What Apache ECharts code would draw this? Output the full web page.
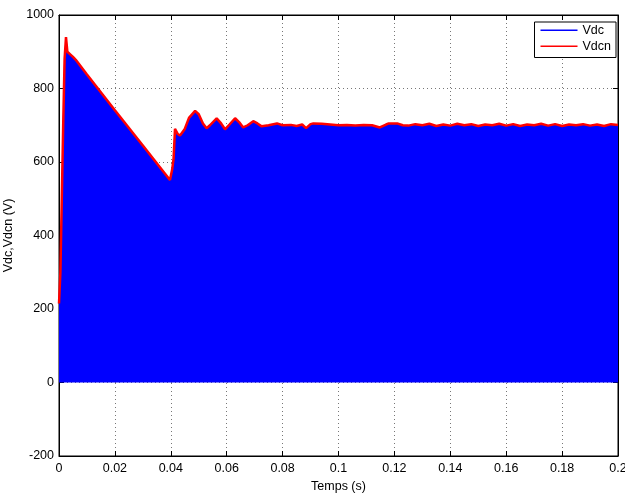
<!DOCTYPE html>
<html><head><meta charset="utf-8">
<script src="https://cdn.jsdelivr.net/npm/echarts@6/dist/echarts.min.js"></script>
<style>html,body{margin:0;padding:0;background:#fff}#c{width:625px;height:493px}</style>
</head><body><div id="c"></div>
<script>
var xTicks = [0, 0.02, 0.04, 0.06, 0.08, 0.1, 0.12, 0.14, 0.16, 0.18, 0.2];
var yTicks = [-200, 0, 200, 400, 600, 800, 1000];
var times = [0, 0.0005, 0.001, 0.0015, 0.002, 0.0025, 0.003, 0.004, 0.005, 0.006,
  0.01, 0.02, 0.03, 0.0397, 0.040, 0.0405, 0.041, 0.0415, 0.0425, 0.0433,
  0.045, 0.0465, 0.0487, 0.050, 0.0515, 0.0528, 0.054, 0.0564, 0.058, 0.0594,
  0.061, 0.063, 0.0645, 0.0659, 0.0675, 0.0695, 0.071, 0.0725, 0.075, 0.078,
  0.080, 0.083, 0.085, 0.087, 0.0884, 0.090, 0.091, 0.094, 0.097, 0.100,
  0.103, 0.106, 0.109, 0.112, 0.1148, 0.117, 0.118, 0.121, 0.123, 0.125,
  0.1275, 0.130, 0.1325, 0.135, 0.1375, 0.140, 0.1425, 0.145, 0.1475, 0.150,
  0.1525, 0.155, 0.1575, 0.160, 0.1625, 0.165, 0.1675, 0.170, 0.1725, 0.175,
  0.1775, 0.180, 0.1825, 0.185, 0.1875, 0.190, 0.1925, 0.195, 0.1975, 0.2];
var vdcn = [215, 300, 500, 700, 880, 940, 900, 893, 886, 878,
  838, 741, 645, 551, 546, 580, 610, 690, 676, 672,
  690, 720, 739, 730, 705, 692, 700, 719, 705, 689,
  702, 719, 708, 694, 700, 711, 705, 697, 700, 705,
  700, 701, 698, 702, 692, 703, 705, 704, 702, 700,
  701, 699, 701, 700, 694, 702, 705, 705, 700, 699,
  703, 700, 704, 698, 702, 699, 704, 700, 703, 698,
  702, 700, 704, 699, 703, 698, 702, 700, 704, 699,
  703, 698, 702, 700, 703, 699, 702, 698, 703, 701];
var vdc = [215, 300, 500, 700, 880, 938, 898, 892, 885, 877,
  837, 740, 644, 550, 546, 579, 609, 689, 675, 671,
  689, 719, 738, 729, 704, 691, 699, 718, 704, 688,
  701, 718, 707, 693, 699, 710, 704, 696, 699, 704,
  699, 700, 697, 701, 691, 702, 704, 703, 701, 699,
  700, 698, 700, 699, 693, 701, 704, 704, 699, 698,
  702, 699, 703, 697, 701, 698, 703, 699, 702, 697,
  701, 699, 703, 698, 702, 697, 701, 699, 703, 698,
  702, 697, 701, 699, 702, 698, 701, 697, 702, 700];

function pairs(ys){ return times.map(function(t,i){ return [t, ys[i]]; }); }

var chart = echarts.init(document.getElementById('c'), null, {renderer:'canvas'});
var font = 'Liberation Sans, Arial, Helvetica, sans-serif';
var fs = 12.5;
var axisLineStyle = {color:'#000', width:1};
chart.setOption({
  animation: false,
  color: ['#0000ff', '#ff0000'],
  backgroundColor: '#fff',
  textStyle: {fontFamily: font},
  grid: {left:59, right:7, top:15, bottom:37, outerBoundsMode:'none', containLabel:false,
    show:true, borderColor:'#000', borderWidth:1, backgroundColor:'transparent'},
  legend: {
    orient:'vertical', right:9, top:22, padding:[1,5,4,6], itemGap:1.5,
    itemWidth:37, itemHeight:1.3, icon:'rect',
    backgroundColor:'#fff', borderColor:'#000', borderWidth:1,
    textStyle:{fontFamily:font, fontSize:fs, color:'#000', lineHeight:14.5},
    data:[
      {name:'Vdc', itemStyle:{color:'#0000ff', borderWidth:0, opacity:1}},
      {name:'Vdcn', itemStyle:{color:'#ff0000', borderWidth:0, opacity:1}}
    ]
  },
  xAxis: [{
    type:'value', min:xTicks[0], max:xTicks[xTicks.length-1], interval:0.02,
    name:'Temps (s)', nameLocation:'middle', nameGap:24,
    nameTextStyle:{fontFamily:font, fontSize:fs, color:'#000'},
    axisLine:{show:true, onZero:false, lineStyle:axisLineStyle},
    axisTick:{show:true, inside:true, length:5, lineStyle:axisLineStyle},
    axisLabel:{fontFamily:font, fontSize:fs, color:'#000', margin:6,
      formatter:function(v){ return String(+v.toFixed(2)); }},
    splitLine:{show:true, lineStyle:{type:[1,3], color:'#777', width:1}}
  },{
    type:'value', position:'top', min:0, max:0.2, interval:0.02,
    axisLine:{show:true, onZero:false, lineStyle:axisLineStyle},
    axisTick:{show:true, inside:true, length:5, lineStyle:axisLineStyle},
    axisLabel:{show:false}, splitLine:{show:false}
  }],
  yAxis: [{
    type:'value', min:yTicks[0], max:yTicks[yTicks.length-1], interval:200,
    name:'Vdc,Vdcn (V)', nameLocation:'middle', nameGap:40, nameRotate:90,
    nameTextStyle:{fontFamily:font, fontSize:fs, color:'#000'},
    axisLine:{show:true, onZero:false, lineStyle:axisLineStyle},
    axisTick:{show:true, inside:true, length:5, lineStyle:axisLineStyle},
    axisLabel:{fontFamily:font, fontSize:fs, color:'#000', margin:5,
      formatter:function(v){ return String(v); }},
    splitLine:{show:true, lineStyle:{type:[1,3], color:'#777', width:1}}
  },{
    type:'value', position:'right', min:-200, max:1000, interval:200,
    axisLine:{show:true, onZero:false, lineStyle:axisLineStyle},
    axisTick:{show:true, inside:true, length:5, lineStyle:axisLineStyle},
    axisLabel:{show:false}, splitLine:{show:false}
  }],
  series: [{
    name:'Vdc', type:'line', color:'#0000ff', data:pairs(vdc), symbol:'none', showSymbol:false,
    lineStyle:{color:'#0000ff', width:1}, itemStyle:{color:'#0000ff'},
    areaStyle:{color:'#0000ff', opacity:1, origin:0}, z:2
  },{
    name:'Vdcn', type:'line', color:'#ff0000', data:pairs(vdcn), symbol:'none', showSymbol:false,
    lineStyle:{color:'#ff0000', width:2.5}, itemStyle:{color:'#ff0000'}, z:3
  }]
});
</script></body></html>
